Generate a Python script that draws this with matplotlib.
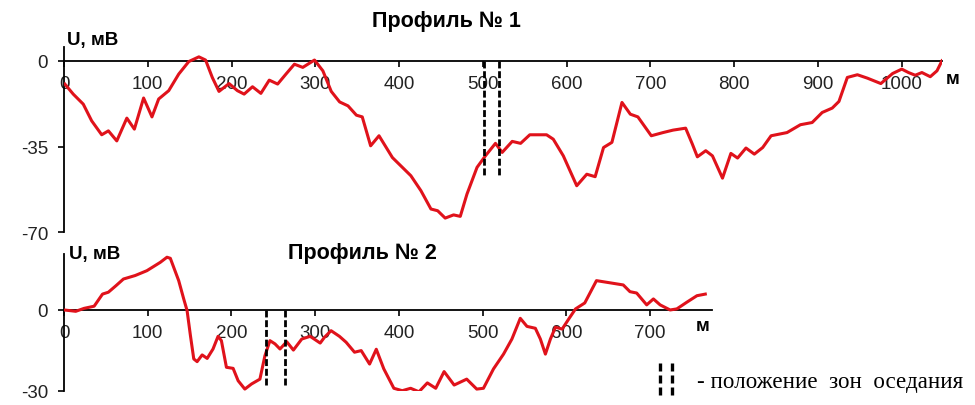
import matplotlib
matplotlib.use("Agg")
import matplotlib.pyplot as plt
from matplotlib.lines import Line2D

plt.rcParams['font.family'] = ['Liberation Sans', 'DejaVu Sans']

# Profile 1 data (distance, m ; potential, mV)
p1_x = [1, 11, 23, 33, 45, 53, 63, 75, 84, 95, 105, 113, 125, 137, 149, 161, 169, 177, 185,
        197, 207, 215, 225, 235, 245, 255, 265, 275, 285, 299, 309, 319, 329, 339, 349, 356,
        366, 376, 392, 414, 426, 438, 446, 455, 465, 473, 481, 493, 503, 515, 523, 535, 545,
        556, 576, 584, 596, 612, 624, 634, 644, 654, 666, 676, 685, 701, 715, 727, 742, 750,
        756, 766, 774, 786, 796, 804, 814, 824, 834, 844, 863, 879, 893, 905, 917, 925, 935,
        947, 959, 975, 989, 1000, 1008, 1016, 1024, 1034, 1042, 1048]
p1_u = [-9.5, -13.6, -17.7, -24.5, -30.2, -28.6, -32.7, -23.4, -27.9, -15.2, -22.9, -15.6,
        -12.2, -5.4, -0.3, 1.6, 0.3, -6.8, -12.5, -9.3, -12.2, -13.6, -10.6, -13.3, -7.9,
        -9.5, -5.4, -1.4, -2.7, 0.3, -4.1, -12.5, -16.8, -18.4, -22.2, -22.9, -34.7, -30.6,
        -39.5, -46.9, -53.0, -60.5, -61.2, -64.2, -62.9, -63.5, -54.4, -43.5, -38.8, -33.7,
        -37.4, -32.9, -33.7, -30.2, -30.2, -32.0, -38.8, -51.0, -46.3, -47.3, -35.4, -33.3,
        -17.0, -21.8, -22.9, -30.6, -29.3, -28.3, -27.5, -34.0, -39.2, -36.7, -38.8, -47.9,
        -37.8, -39.7, -35.6, -38.1, -35.4, -30.6, -29.3, -26.1, -25.2, -21.1, -19.3, -16.6,
        -6.8, -5.7, -7.1, -9.3, -5.2, -3.4, -4.8, -5.9, -4.8, -6.5, -4.1, 0.0]

# Profile 2 data
p2_x = [0, 6, 14, 24, 36, 46, 53, 62, 71, 85, 99, 115, 123, 127, 137, 143, 147, 151, 155,
        159, 165, 171, 178, 184, 188, 194, 202, 208, 216, 224, 234, 240, 246, 252, 258, 266,
        274, 284, 294, 306, 311, 319, 329, 337, 347, 355, 365, 373, 382, 394, 404, 414, 424,
        434, 444, 454, 466, 481, 493, 501, 513, 525, 535, 545, 553, 563, 569, 575, 581, 587,
        595, 603, 611, 622, 636, 648, 668, 676, 684, 696, 704, 712, 724, 732, 744, 756, 766]
p2_u = [0.0, -0.2, -0.5, 0.6, 1.4, 5.9, 6.6, 9.0, 11.5, 12.8, 14.6, 17.7, 19.6, 19.2, 10.9,
        4.1, -0.2, -9.5, -18.2, -19.2, -16.7, -18.0, -14.5, -9.8, -11.4, -21.3, -21.7, -26.3,
        -29.4, -27.5, -25.7, -17.0, -11.4, -12.6, -14.5, -11.8, -14.9, -10.8, -9.8, -12.3,
        -10.2, -7.7, -9.8, -12.0, -15.7, -15.1, -20.1, -14.6, -21.9, -29.1, -30.0, -29.1,
        -30.4, -27.1, -29.1, -22.9, -27.9, -25.7, -29.4, -29.1, -21.9, -16.4, -10.8, -3.1,
        -6.1, -6.8, -10.8, -16.4, -10.8, -6.4, -7.1, -3.3, 0.4, 2.6, 10.9, 10.3, 9.3, 6.8,
        6.3, 1.9, 4.1, 1.9, 0.0, 0.4, 2.9, 5.3, 5.9]

# Subsidence zones (m) and dashed-line depth (mV)
zones1 = [501, 519]
zones1_depth = -47
zones2 = [241, 264]
zones2_depth = -28.5

x_ticks1 = [0, 100, 200, 300, 400, 500, 600, 700, 800, 900, 1000]
y_ticks1 = [0, -35, -70]
x_ticks2 = [0, 100, 200, 300, 400, 500, 600, 700]
y_ticks2 = [0, -30]

RED = '#e0121b'
W, H = 975, 406
fig = plt.figure(figsize=(W / 100, H / 100), dpi=100)


def fx(px):
    return px / W


def fy(py):
    return 1 - py / H


def style_axes(ax, xticks, yticks):
    ax.spines['top'].set_visible(False)
    ax.spines['right'].set_visible(False)
    ax.spines['bottom'].set_position(('data', 0))
    for s in ('left', 'bottom'):
        ax.spines[s].set_linewidth(1.3)
        ax.spines[s].set_color('black')
    ax.set_xticks(xticks)
    ax.set_xticklabels([str(t) for t in xticks])
    ax.set_yticks(yticks)
    ax.set_yticklabels([str(t) for t in yticks])
    ax.tick_params(axis='x', direction='out', length=4, width=1.2, pad=6,
                   labelsize=13.5, colors='black', labelcolor='#222222')
    ax.tick_params(axis='y', direction='out', length=4.5, width=1.2, pad=7,
                   labelsize=13.5, labelcolor='#222222')
    for lbl in ax.get_xticklabels():
        lbl.set_zorder(1)


# Top chart
ax1 = fig.add_axes([fx(64), fy(233.3), fx(942 - 64), (233.3 - 48.3) / H])
ax1.set_xlim(0, 1048)
ax1.set_ylim(-70, 5.5)
ax1.plot(p1_x, p1_u, color=RED, lw=2.2, solid_joinstyle='round', zorder=3)
for z in zones1:
    ax1.plot([z, z], [0, zones1_depth], color='black', lw=2.0,
             dashes=(2.5, 1.0), zorder=4)
style_axes(ax1, x_ticks1, y_ticks1)

# Bottom chart
ax2 = fig.add_axes([fx(64), fy(391.7), fx(712 - 64), (391.7 - 255) / H])
ax2.set_xlim(0, 774)
ax2.set_ylim(-30, 20.8)
ax2.plot(p2_x, p2_u, color=RED, lw=2.2, solid_joinstyle='round', zorder=3)
for z in zones2:
    ax2.plot([z, z], [0, zones2_depth], color='black', lw=2.0,
             dashes=(2.5, 1.0), zorder=4)
style_axes(ax2, x_ticks2, y_ticks2)

# Titles and labels
fig.text(fx(446), fy(21), 'Профиль № 1', fontsize=15.5, fontweight='bold',
         ha='center', va='center')
fig.text(fx(67), fy(40), 'U, мВ', fontsize=13.5, fontweight='bold',
         ha='left', va='center')
fig.text(fx(953), fy(79), 'м', fontsize=13.5, fontweight='bold',
         ha='center', va='center')

fig.text(fx(362), fy(254), 'Профиль № 2', fontsize=15.5, fontweight='bold',
         ha='center', va='center')
fig.text(fx(69), fy(255), 'U, мВ', fontsize=13.5, fontweight='bold',
         ha='left', va='center')
fig.text(fx(703), fy(327), 'м', fontsize=13.5, fontweight='bold',
         ha='center', va='center')

# Legend
for lx in (660, 672):
    fig.add_artist(Line2D([fx(lx), fx(lx)], [fy(364), fy(397)], color='black',
                          lw=2.4, dashes=(2.4, 1.2), transform=fig.transFigure))
fig.text(fx(697), fy(383), '- положение  зон  оседания', fontsize=16.6,
         family=['Liberation Serif', 'DejaVu Serif'], ha='left', va='center')

fig.savefig('out.png', dpi=100)
